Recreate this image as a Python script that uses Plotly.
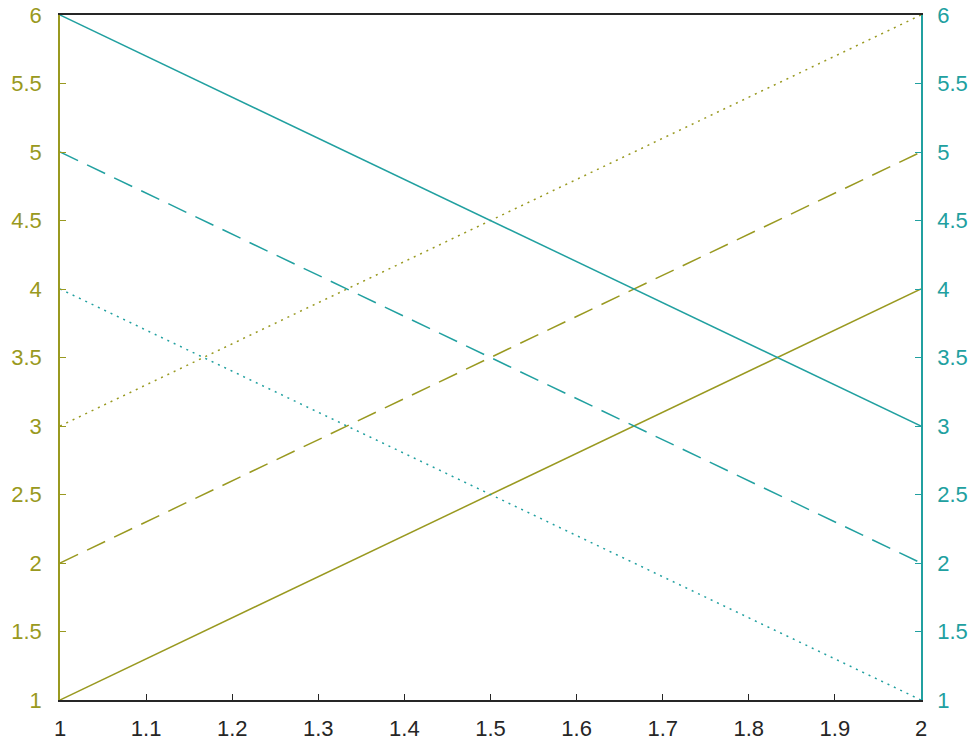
import plotly.graph_objects as go

x_vals = [1, 2]
left_solid = [1, 4]
left_dashed = [2, 5]
left_dotted = [3, 6]
right_solid = [6, 3]
right_dashed = [5, 2]
right_dotted = [4, 1]

x_ticks = [1, 1.1, 1.2, 1.3, 1.4, 1.5, 1.6, 1.7, 1.8, 1.9, 2]
x_tick_text = ["1", "1.1", "1.2", "1.3", "1.4", "1.5", "1.6", "1.7", "1.8", "1.9", "2"]
y_ticks = [1, 1.5, 2, 2.5, 3, 3.5, 4, 4.5, 5, 5.5, 6]
y_tick_text = ["1", "1.5", "2", "2.5", "3", "3.5", "4", "4.5", "5", "5.5", "6"]

olive = "#999920"
teal = "#21A0A0"
axis_dark = "#262626"

fig = go.Figure()
lw = 1.5
fig.add_trace(go.Scatter(x=x_vals, y=left_solid, mode="lines", line=dict(color=olive, width=lw), yaxis="y"))
fig.add_trace(go.Scatter(x=x_vals, y=left_dashed, mode="lines", line=dict(color=olive, width=lw, dash="20px,10px"), yaxis="y"))
fig.add_trace(go.Scatter(x=x_vals, y=left_dotted, mode="lines", line=dict(color=olive, width=lw, dash="2px,5px"), yaxis="y"))
fig.add_trace(go.Scatter(x=x_vals, y=right_solid, mode="lines", line=dict(color=teal, width=lw), yaxis="y2"))
fig.add_trace(go.Scatter(x=x_vals, y=right_dashed, mode="lines", line=dict(color=teal, width=lw, dash="20px,10px"), yaxis="y2"))
fig.add_trace(go.Scatter(x=x_vals, y=right_dotted, mode="lines", line=dict(color=teal, width=lw, dash="2px,5px"), yaxis="y2"))

font_family = "Liberation Sans, Arial, sans-serif"
fs = 22
fig.update_layout(
    width=976, height=741,
    margin=dict(l=60, r=55, t=15, b=41, autoexpand=False),
    plot_bgcolor="white", paper_bgcolor="white",
    showlegend=False,
    font=dict(family=font_family, size=fs, color=axis_dark),
    xaxis=dict(range=[1, 2], tickvals=x_ticks, ticktext=x_tick_text, showgrid=False, zeroline=False,
               showline=True, linecolor=axis_dark, linewidth=1.5, mirror=True, automargin=False,
               ticks="inside", ticklen=6, tickcolor=axis_dark, tickfont=dict(color=axis_dark, size=fs),
               ticklabelstandoff=8),
    yaxis=dict(range=[1, 6], tickvals=y_ticks, ticktext=y_tick_text, showgrid=False, zeroline=False,
               showline=True, linecolor=olive, linewidth=1.5, automargin=False,
               ticks="inside", ticklen=6, tickcolor=olive, tickfont=dict(color=olive, size=fs),
               ticklabelstandoff=12),
    yaxis2=dict(range=[1, 6], tickvals=y_ticks, ticktext=y_tick_text, showgrid=False, zeroline=False,
                overlaying="y", side="right", automargin=False,
                showline=True, linecolor=teal, linewidth=1.5,
                ticks="inside", ticklen=6, tickcolor=teal, tickfont=dict(color=teal, size=fs),
                ticklabelstandoff=10),
)

fig.write_html("out.html", config={"displayModeBar": False},
               post_script="document.body.style.margin='0';document.body.style.overflow='hidden';")
